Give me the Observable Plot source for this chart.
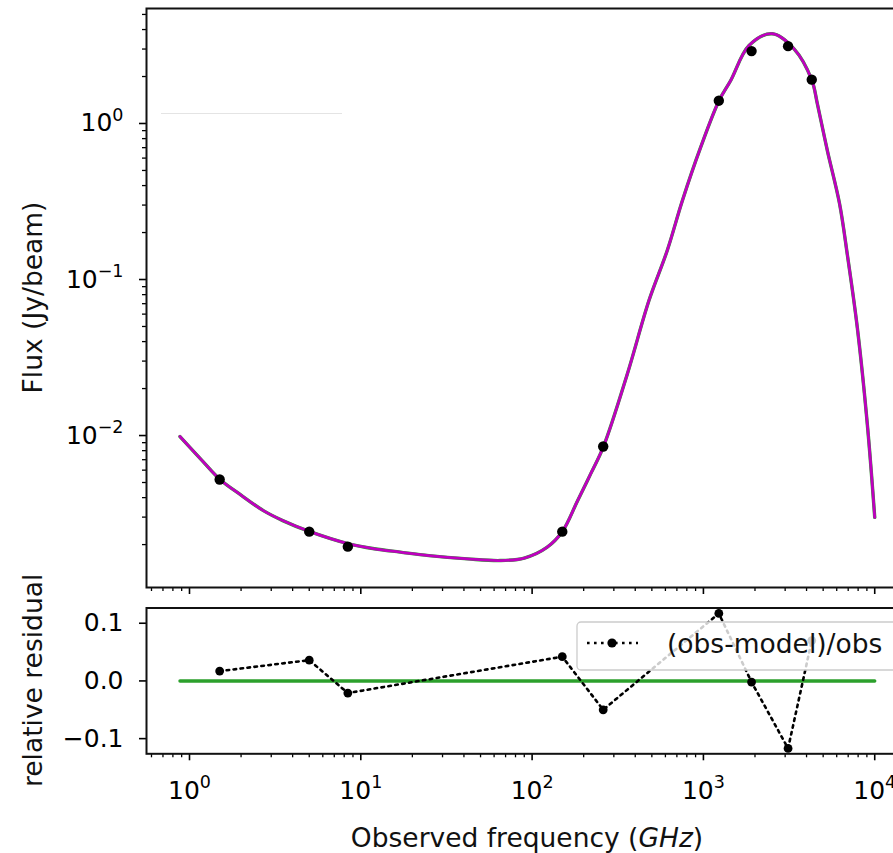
<!DOCTYPE html>
<html><head><meta charset="utf-8">
<script src="https://cdn.jsdelivr.net/npm/d3@7"></script>
<script src="https://cdn.jsdelivr.net/npm/@observablehq/plot@0.6"></script>
<style>
html,body{margin:0;padding:0;overflow:hidden;background:#fff;}
#wrap{position:relative;width:893px;height:853px;overflow:hidden;background:#fff}
#top,#bot{position:absolute;left:0;width:909px}
#top{top:0}
#bot{top:600px}
#wrap svg{max-width:none !important;}
svg text{font-family:"DejaVu Sans",sans-serif}
</style></head>
<body><div id="wrap"><div id="top"></div><div id="bot"></div></div>
<script>
// ---- data ----
const modelFreq = [0.88,1.2,1.5,2.0,2.7,3.5,5.0,8.4,12,17,25,42,65,90,122,150,184,220,261,360,481,615,754,964,1233,1443,1846,2525,3380,4285,4626,5290,6230,6932,7925,9066,10000];
const modelFlux = [9.85e-3,6.8e-3,5.25e-3,4.15e-3,3.3e-3,2.85e-3,2.43e-3,2.03e-3,1.88e-3,1.79e-3,1.70e-3,1.62e-3,1.58e-3,1.64e-3,1.92e-3,2.42e-3,3.81e-3,5.7e-3,8.5e-3,0.0249,0.0733,0.1535,0.321,0.705,1.40,1.887,3.16,3.76,3.01,1.91,1.337,0.671,0.307,0.1425,0.0485,0.0116,2.99e-3];
const obsFreq = [1.5,5.0,8.4,150,260,1230,1910,3120,4290];
const obsFlux = [5.23e-3,2.42e-3,1.94e-3,2.42e-3,8.5e-3,1.40,2.91,3.13,1.91];
const residual = [0.017,0.036,-0.021,0.042,-0.050,0.117,-0.002,-0.117,0.07];
const zeroFreq = [0.88,10000];
const zeroVal = [0,0];
const xMajor = [1,10,100,1000,10000];
const yMajorTop = [0.01,0.1,1];
const yTicksBot = [-0.1,0,0.1];
const legendLabel = "(obs-model)/obs";
const yLabelTop = "Flux (Jy/beam)";
const yLabelBot = "relative residual";

const xDomain = [Math.pow(10,-0.251), Math.pow(10,4.203)];
const yDomainTop = [Math.pow(10,-2.974), Math.pow(10,0.737)];
const yDomainBot = [-0.1263,0.1264];

const minorLog = (lo,hi) => { const out=[]; for(let e=-4;e<=5;e++) for(let k=2;k<=9;k++){const v=k*Math.pow(10,e); if(v>lo&&v<hi) out.push(v);} return out; };
const xMinor = minorLog(xDomain[0], xDomain[1]);
const yMinorTop = minorLog(yDomainTop[0], yDomainTop[1]);
const supFmt = d => "10^" + String(Math.round(Math.log10(d))).replace("-","\u2212");

const idx = a => a.map((_,i)=>i);
const W = 909;
const style = {fontFamily:"DejaVu Sans", fontSize:"25px", color:"#000", background:"transparent", overflow:"visible", maxWidth:"none"};

const topPlot = Plot.plot({
  width: W, height: 600,
  marginLeft:146, marginRight:0, marginTop:8, marginBottom:13,
  x:{type:"log", domain:xDomain},
  y:{type:"log", domain:yDomainTop},
  style,
  marks:[
    Plot.axisX({ticks:xMajor, tickSize:7, tickFormat:()=>"", label:null, strokeWidth:1.6}),
    Plot.axisX({ticks:xMinor, tickSize:4, tickFormat:()=>"", label:null, strokeWidth:1.3}),
    Plot.axisY({ticks:yMajorTop, tickSize:7, tickPadding:16, tickFormat:supFmt, label:null, strokeWidth:1.6, fontSize:25}),
    Plot.axisY({ticks:yMinorTop, tickSize:4, tickFormat:()=>"", label:null, strokeWidth:1.3}),
    Plot.line(idx(modelFreq), {x:i=>modelFreq[i], y:i=>modelFlux[i], stroke:"#2ca02c", strokeWidth:3.4, curve:"catmull-rom"}),
    Plot.line(idx(modelFreq), {x:i=>modelFreq[i], y:i=>modelFlux[i], stroke:"#bf00bf", strokeWidth:2.8, curve:"catmull-rom"}),
    Plot.dot(idx(obsFreq), {x:i=>obsFreq[i], y:i=>obsFlux[i], r:5.2, fill:"#000", stroke:"none"}),
    Plot.frame({stroke:"#111", strokeWidth:2})
  ]
});

const botPlot = Plot.plot({
  width: W, height: 253,
  marginLeft:146, marginRight:0, marginTop:7.5, marginBottom:99.7,
  x:{type:"log", domain:xDomain},
  y:{domain:yDomainBot},
  style,
  marks:[
    Plot.axisX({ticks:xMajor, tickSize:7, tickPadding:20, tickFormat:supFmt, label:null, strokeWidth:1.6, fontSize:25}),
    Plot.axisX({ticks:xMinor, tickSize:4, tickFormat:()=>"", label:null, strokeWidth:1.3}),
    Plot.axisY({ticks:yTicksBot, tickSize:7, tickPadding:16, tickFormat:d=>d3.format(".1f")(d).replace("-","\u2212"), label:null, strokeWidth:1.6, fontSize:25}),
    Plot.line(idx(zeroFreq), {x:i=>zeroFreq[i], y:i=>zeroVal[i], stroke:"#2ca02c", strokeWidth:3.4}),
    Plot.line(idx(obsFreq), {x:i=>obsFreq[i], y:i=>residual[i], stroke:"#000", strokeWidth:2.6, strokeDasharray:"2.6,4.4"}),
    Plot.dot(idx(obsFreq), {x:i=>obsFreq[i], y:i=>residual[i], r:4.4, fill:"#000", stroke:"none"}),
    Plot.frame({stroke:"#111", strokeWidth:2})
  ]
});

function sup(svg){
  d3.select(svg).selectAll("text").each(function(){
    const t = this.textContent;
    const m = /^10\^(.+)$/.exec(t);
    if(m){
      const s = d3.select(this);
      s.text(null);
      s.append("tspan").text("10");
      s.append("tspan").attr("dy","-0.62em").attr("font-size","0.7em").text(m[1]);
    }
  });
}
sup(topPlot); sup(botPlot);

// axis labels
const ts = d3.select(topPlot);
ts.append("text").attr("transform","translate(42,297.5) rotate(-90)").attr("text-anchor","middle")
  .attr("font-size",26.5).attr("fill","#111").text(yLabelTop);
// faint legend-frame artefact in the upper panel
ts.append("line").attr("x1",161).attr("x2",342).attr("y1",113.5).attr("y2",113.5).attr("stroke","#e4e4e4").attr("stroke-width",1);

const bs = d3.select(botPlot);
bs.append("text").attr("transform","translate(42,80.4) rotate(-90)").attr("text-anchor","middle")
  .attr("font-size",26.5).attr("fill","#111").text(yLabelBot);
const xl = bs.append("text").attr("x",527).attr("y",247).attr("text-anchor","middle").attr("font-size",26.5).attr("fill","#111");
xl.append("tspan").text("Observed frequency (");
xl.append("tspan").attr("font-style","italic").text("GHz");
xl.append("tspan").text(")");

// legend
const lg = bs.append("g");
lg.append("rect").attr("x",577).attr("y",22).attr("width",340).attr("height",48).attr("rx",4)
  .attr("fill","#fff").attr("fill-opacity",0.8).attr("stroke","#cccccc").attr("stroke-width",1.3);
lg.append("line").attr("x1",587).attr("x2",638).attr("y1",43).attr("y2",43).attr("stroke","#000")
  .attr("stroke-width",2.6).attr("stroke-dasharray","2.6,4.4");
lg.append("circle").attr("cx",612).attr("cy",43).attr("r",4.6).attr("fill","#000");
lg.append("text").attr("x",667).attr("y",53).attr("text-anchor","start").attr("font-size",26.5).attr("fill","#111").text(legendLabel);

document.getElementById("top").appendChild(topPlot);
document.getElementById("bot").appendChild(botPlot);
</script>
</body></html>
